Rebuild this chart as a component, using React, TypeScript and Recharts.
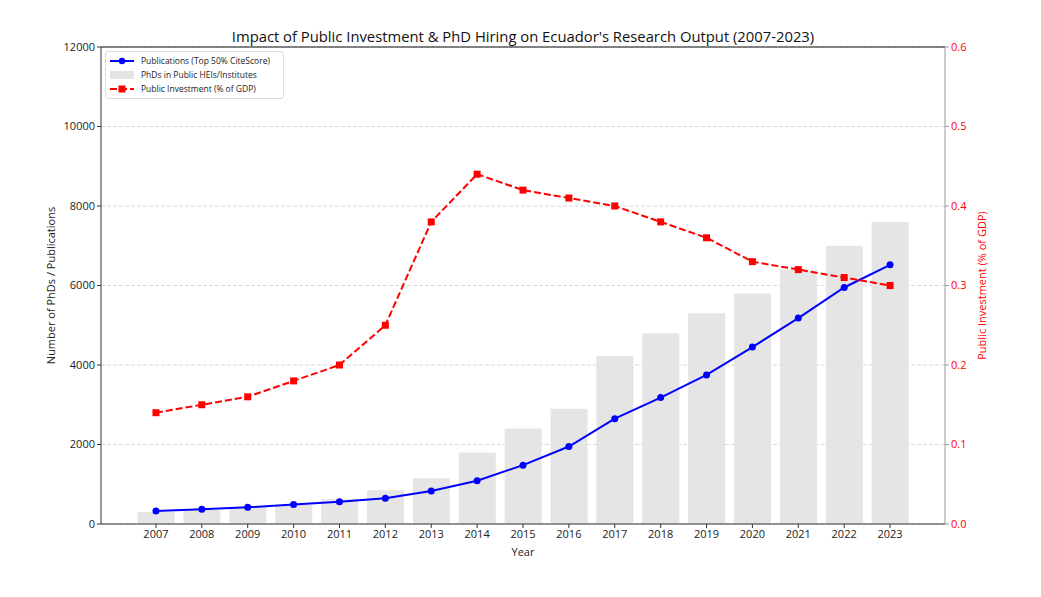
import React from 'react';
import {
  ComposedChart,
  Bar,
  Line,
  XAxis,
  YAxis,
  CartesianGrid,
  ReferenceLine,
} from 'recharts';

const years = ['2007', '2008', '2009', '2010', '2011', '2012', '2013', '2014', '2015', '2016', '2017', '2018', '2019', '2020', '2021', '2022', '2023'];
const phds = [300, 350, 420, 480, 620, 850, 1150, 1800, 2400, 2900, 4225, 4800, 5300, 5800, 6400, 7000, 7600];
const publications = [330, 370, 420, 490, 560, 650, 830, 1090, 1480, 1950, 2650, 3180, 3750, 4450, 5180, 5950, 6520];
const investment = [0.14, 0.15, 0.16, 0.18, 0.2, 0.25, 0.38, 0.44, 0.42, 0.41, 0.4, 0.38, 0.36, 0.33, 0.32, 0.31, 0.3];
const leftTicks = [0, 2000, 4000, 6000, 8000, 10000, 12000];
const rightTicks = [0, 0.1, 0.2, 0.3, 0.4, 0.5, 0.6];

const data = years.map((y, i) => ({
  year: y,
  phds: phds[i],
  pubs: publications[i],
  inv: investment[i],
}));

const FONT = '"Open Sans", sans-serif';

const LegendBox = () => (
  <div
    style={{
      position: 'absolute',
      left: 105,
      top: 51,
      border: '1px solid #ddd',
      borderRadius: 3,
      background: 'rgba(255,255,255,0.85)',
      padding: '2px 13px 2px 3px',
      fontFamily: FONT,
      fontSize: 8.5,
      color: '#222',
      lineHeight: '14px',
    }}
  >
    <div style={{ display: 'flex', alignItems: 'center' }}>
      <svg width={26} height={14}>
        <line x1={1} y1={7} x2={25} y2={7} stroke="#0000ff" strokeWidth={2} />
        <circle cx={13} cy={7} r={3.2} fill="#0000ff" />
      </svg>
      <span style={{ marginLeft: 6 }}>Publications (Top 50% CiteScore)</span>
    </div>
    <div style={{ display: 'flex', alignItems: 'center' }}>
      <svg width={26} height={14}>
        <rect x={1} y={3} width={24} height={8} fill="#e5e5e5" />
      </svg>
      <span style={{ marginLeft: 6 }}>PhDs in Public HEIs/Institutes</span>
    </div>
    <div style={{ display: 'flex', alignItems: 'center' }}>
      <svg width={26} height={14}>
        <line x1={1} y1={7} x2={25} y2={7} stroke="#ff0000" strokeWidth={2} strokeDasharray="7 3" />
        <rect x={9.5} y={3.5} width={7} height={7} fill="#ff0000" />
      </svg>
      <span style={{ marginLeft: 6 }}>Public Investment (% of GDP)</span>
    </div>
  </div>
);

const Square = (props: any) => {
  const { cx, cy } = props;
  if (cx == null || cy == null) return null;
  return <rect x={cx - 3.5} y={cy - 3.5} width={7} height={7} fill="#ff0000" />;
};

export default function App() {
  return (
    <div style={{ position: 'absolute', left: 0, top: 0, width: 1041, height: 597, background: '#fff' }}>
      <div
        style={{
          position: 'absolute',
          left: 0,
          width: 1046,
          top: 25,
          textAlign: 'center',
          fontFamily: FONT,
          fontSize: 14.8,
          color: '#111',
          lineHeight: '22px',
        }}
      >
        Impact of Public Investment &amp; PhD Hiring on Ecuador's Research Output (2007-2023)
      </div>
      <ComposedChart
        width={1041}
        height={597}
        data={data}
        margin={{ top: 47, right: 36, bottom: 33, left: 41 }}
        barCategoryGap="10%"
        style={{ fontFamily: FONT }}
      >
        <CartesianGrid vertical={false} yAxisId="left" stroke="#cfcfcf" strokeDasharray="4 2" strokeWidth={0.8} />
        <XAxis
          dataKey="year"
          height={40}
          padding={{ left: 32, right: 32 }}
          tick={{ fill: '#222', fontSize: 11 }}
          tickSize={4}
          tickMargin={2}
          stroke="#333"
          label={{ value: 'Year', position: 'insideBottom', offset: 8, fill: '#222', fontSize: 11 }}
        />
        <YAxis
          yAxisId="left"
          orientation="left"
          width={60}
          domain={[0, 12000]}
          ticks={leftTicks}
          tick={{ fill: '#222', fontSize: 11 }}
          tickSize={4}
          tickMargin={2}
          stroke="#333"
          label={{
            value: 'Number of PhDs / Publications',
            angle: -90,
            position: 'insideLeft',
            offset: 0,
            dx: 10,
            fill: '#222',
            fontSize: 11,
            style: { textAnchor: 'middle' },
          }}
        />
        <YAxis
          yAxisId="right"
          orientation="right"
          width={60}
          domain={[0, 0.6]}
          ticks={rightTicks}
          tickFormatter={(v: number) => v.toFixed(1)}
          tick={{ fill: '#ff0000', fontSize: 11 }}
          tickSize={4}
          tickMargin={2}
          stroke="#999"
          label={{
            value: 'Public Investment (% of GDP)',
            angle: -90,
            position: 'insideRight',
            offset: 0,
            dx: -23,
            fill: '#ff0000',
            fontSize: 11,
            style: { textAnchor: 'middle' },
          }}
        />
        <ReferenceLine yAxisId="left" y={12000} stroke="#111" strokeWidth={1} />
        <Bar yAxisId="left" dataKey="phds" fill="#e5e5e5" isAnimationActive={false} />
        <Line
          yAxisId="left"
          dataKey="pubs"
          stroke="#0000ff"
          strokeWidth={2}
          dot={{ r: 3.5, fill: '#0000ff', stroke: '#0000ff', strokeWidth: 0 }}
          activeDot={false}
          isAnimationActive={false}
        />
        <Line
          yAxisId="right"
          dataKey="inv"
          stroke="#ff0000"
          strokeWidth={2}
          strokeDasharray="7 3"
          dot={<Square />}
          activeDot={false}
          isAnimationActive={false}
        />
      </ComposedChart>
      <LegendBox />
    </div>
  );
}
